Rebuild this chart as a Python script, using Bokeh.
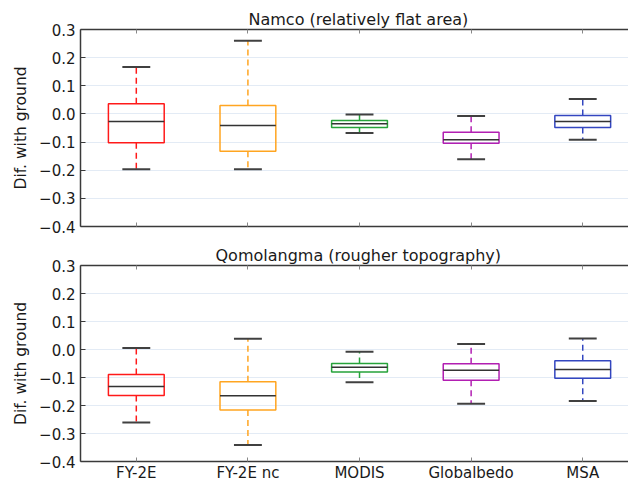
from bokeh.plotting import figure
from bokeh.layouts import column
from bokeh.models import (FixedTicker, LinearAxis, CustomJSTickFormatter, Range1d,
                          Grid, ColumnDataSource)
from bokeh.embed import file_html
from bokeh.resources import INLINE

# ---------------- data ----------------
categories = ["FY-2E", "FY-2E nc", "MODIS", "Globalbedo", "MSA"]
colors = ["#ff1a1a", "#ffa521", "#26a33a", "#b21fb2", "#3346c0"]

namco_lower = [-0.197, -0.197, -0.068, -0.161, -0.092]
namco_q1 = [-0.102, -0.133, -0.048, -0.104, -0.048]
namco_median = [-0.027, -0.041, -0.035, -0.092, -0.027]
namco_q3 = [0.036, 0.030, -0.023, -0.065, -0.006]
namco_upper = [0.167, 0.260, -0.002, -0.007, 0.053]

qomo_lower = [-0.261, -0.341, -0.117, -0.194, -0.184]
qomo_q1 = [-0.164, -0.216, -0.080, -0.110, -0.103]
qomo_median = [-0.132, -0.165, -0.063, -0.074, -0.071]
qomo_q3 = [-0.089, -0.115, -0.050, -0.051, -0.040]
qomo_upper = [0.005, 0.038, -0.008, 0.020, 0.039]

y_ticks = [-0.4, -0.3, -0.2, -0.1, 0.0, 0.1, 0.2, 0.3]
y_label = "Dif. with ground"
titles = ["Namco (relatively flat area)", "Qomolangma (rougher topography)"]

# ---------------- style ----------------
FONT = "DejaVu Sans"
BOX_W = 0.5
CAP_W = 0.25
AX_COL = "#3a3a3a"
TXT_COL = "#1a1a1a"
positions = [i + 1 for i in range(len(categories))]


def make_panel(title, lower, q1, med, q3, upper, show_x_labels, height,
               top_border, bottom_border, title_offset):
    p = figure(width=628, height=height, output_backend="svg", toolbar_location=None,
               x_range=Range1d(0.5, 5.41), y_range=Range1d(-0.4, 0.3),
               min_border_left=80, min_border_right=0,
               min_border_top=top_border, min_border_bottom=bottom_border,
               x_axis_location=None, y_axis_location=None,
               outline_line_color=None, background_fill_color="white",
               border_fill_color="white")
    # remove any default grids
    p.grid.visible = False

    yticker = FixedTicker(ticks=y_ticks)
    xticker = FixedTicker(ticks=positions)

    p.add_layout(Grid(dimension=1, ticker=yticker, grid_line_color="#e3ebf5",
                      grid_line_width=1))

    yfmt = CustomJSTickFormatter(code="""
        const s = Math.abs(tick).toFixed(1);
        return (tick < -1e-9 ? '\u2212' : '') + s;
    """)
    yaxis = LinearAxis(ticker=yticker, formatter=yfmt, axis_label=y_label)
    yaxis.axis_line_color = AX_COL
    yaxis.axis_line_width = 1.5
    yaxis.major_tick_in = 5
    yaxis.major_tick_out = 0
    yaxis.major_tick_line_color = AX_COL
    yaxis.minor_tick_line_color = None
    yaxis.major_label_standoff = 5
    yaxis.major_label_text_font = FONT
    yaxis.major_label_text_font_size = "15px"
    yaxis.major_label_text_color = TXT_COL
    yaxis.axis_label_text_font = FONT
    yaxis.axis_label_text_font_size = "15.5px"
    yaxis.axis_label_text_font_style = "normal"
    yaxis.axis_label_text_color = TXT_COL
    yaxis.axis_label_standoff = 6
    p.add_layout(yaxis, "left")

    for loc in ("below", "above"):
        ax = LinearAxis(ticker=xticker)
        ax.axis_line_color = AX_COL
        ax.axis_line_width = 1.5
        ax.major_tick_in = 4
        ax.major_tick_out = 0
        ax.major_tick_line_color = "#888888"
        ax.minor_tick_line_color = None
        if loc == "below" and show_x_labels:
            ax.major_label_overrides = {pos: name for pos, name in zip(positions, categories)}
            ax.major_label_standoff = 2
            ax.major_label_text_font = FONT
            ax.major_label_text_font_size = "15px"
            ax.major_label_text_color = TXT_COL
        else:
            ax.major_label_text_color = None
            ax.major_label_standoff = 0
        p.add_layout(ax, loc)

    src = ColumnDataSource(dict(
        x=positions, lower=lower, q1=q1, med=med, q3=q3, upper=upper, color=colors,
        left=[x - BOX_W / 2 for x in positions], right=[x + BOX_W / 2 for x in positions],
        cl=[x - CAP_W / 2 for x in positions], cr=[x + CAP_W / 2 for x in positions]))

    # whiskers
    p.segment(x0="x", y0="q3", x1="x", y1="upper", source=src, line_color="color",
              line_width=1.5, line_dash="6 4")
    p.segment(x0="x", y0="q1", x1="x", y1="lower", source=src, line_color="color",
              line_width=1.5, line_dash="6 4")
    # caps
    p.segment(x0="cl", y0="upper", x1="cr", y1="upper", source=src,
              line_color="#404040", line_width=2)
    p.segment(x0="cl", y0="lower", x1="cr", y1="lower", source=src,
              line_color="#404040", line_width=2)
    # boxes
    p.quad(left="left", right="right", bottom="q1", top="q3", source=src,
           fill_color="white", fill_alpha=0.0, line_color="color", line_width=1.5)
    # medians
    p.segment(x0="left", y0="med", x1="right", y1="med", source=src,
              line_color="#333333", line_width=1.5)

    p.title.text = title
    p.title.align = "left"
    p.title.offset = title_offset
    p.title.standoff = 2
    p.title.text_font = FONT
    p.title.text_font_size = "16px"
    p.title.text_font_style = "normal"
    p.title.text_color = TXT_COL
    return p


p1 = make_panel(titles[0], namco_lower, namco_q1, namco_median, namco_q3, namco_upper,
                False, 238, 29, 12, 168)
p2 = make_panel(titles[1], qomo_lower, qomo_q1, qomo_median, qomo_q3, qomo_upper,
                True, 246, 27, 22, 135)

layout = column(p1, p2, spacing=0)
open("out.html", "w").write(file_html(layout, INLINE))
